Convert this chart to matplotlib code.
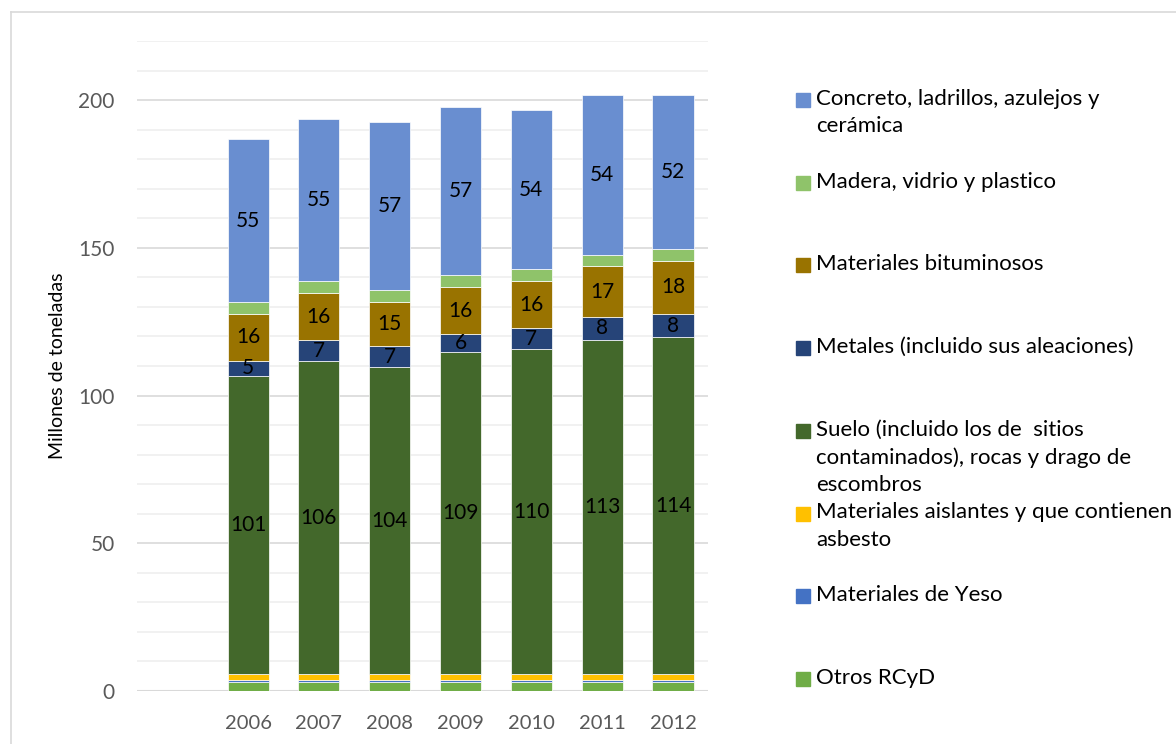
import matplotlib
matplotlib.use("Agg")
import matplotlib.pyplot as plt
from matplotlib.patches import Rectangle
from matplotlib.lines import Line2D
import numpy as np

plt.rcParams['font.family'] = ['Lato', 'DejaVu Sans']

# ---- data ----
categories = ["", "2006", "2007", "2008", "2009", "2010", "2011", "2012"]
otros      = [0, 3.0, 3.0, 3.0, 3.0, 3.0, 3.0, 3.0]
yeso       = [0, 0.7, 0.7, 0.7, 0.7, 0.7, 0.7, 0.7]
aislantes  = [0, 2.0, 2.0, 2.0, 2.0, 2.0, 2.0, 2.0]
suelo      = [0, 101, 106, 104, 109, 110, 113, 114]
metales    = [0, 5, 7, 7, 6, 7, 8, 8]
bitum      = [0, 16, 16, 15, 16, 16, 17, 18]
madera     = [0, 4, 4, 4, 4, 4, 4, 4]
concreto   = [0, 55, 55, 57, 57, 54, 54, 52]

series_names = [
    "Otros RCyD",
    "Materiales de Yeso",
    "Materiales aislantes y que contienen\nasbesto",
    "Suelo (incluido los de  sitios\ncontaminados), rocas y drago de\nescombros",
    "Metales (incluido sus aleaciones)",
    "Materiales bituminosos",
    "Madera, vidrio y plastico",
    "Concreto, ladrillos, azulejos y\ncerámica",
]
series_vals = [otros, yeso, aislantes, suelo, metales, bitum, madera, concreto]
series_colors = ["#70ad47", "#4472c4", "#ffc000", "#43682b",
                 "#264478", "#997300", "#8fc36a", "#698ed0"]
labeled = [False, False, False, True, True, True, False, True]

fig = plt.figure(figsize=(11.76, 7.44), dpi=100)
W, H = 1176, 744
ax = fig.add_axes([137 / W, 1 - 691 / H, (708.4 - 137) / W, (691 - 41) / H])

x = np.arange(len(categories))
bottom = np.zeros(len(categories))
for vals, col, lab in zip(series_vals, series_colors, labeled):
    v = np.array(vals, dtype=float)
    mask = v > 0
    ax.bar(x[mask], v[mask], bottom=bottom[mask], width=0.58, color=col,
           edgecolor="#ffffff", linewidth=0.5, zorder=3)
    if lab:
        for xi, vi, bi in zip(x[mask], v[mask], bottom[mask]):
            ax.text(xi, bi + vi / 2, f"{vi:.0f}", ha="center", va="center",
                    fontsize=15, color="black", zorder=4)
    bottom = bottom + v

ax.set_xlim(-0.568, 7.5)
ax.set_ylim(0, 220)
ax.set_xticks(x)
ax.set_xticklabels(categories)
ax.set_yticks([0, 50, 100, 150, 200])
ax.set_yticks(np.arange(0, 221, 10), minor=True)
ax.tick_params(axis="both", which="both", length=0, colors="#595959")
ax.tick_params(axis="x", labelsize=14.5, pad=17)
ax.tick_params(axis="y", labelsize=15, pad=16)
ax.grid(True, which="minor", axis="y", color="#efefef", linewidth=1.2, zorder=0)
ax.grid(True, which="major", axis="y", color="#d9d9d9", linewidth=1.2, zorder=0)
for s in ax.spines.values():
    s.set_visible(False)
ax.axhline(0, color="#d9d9d9", linewidth=1.5, zorder=2)
ax.set_ylabel("Millones de toneladas", fontsize=14, color="black")
ax.yaxis.set_label_coords(-0.124, 0.5)

# legend (manual, Excel style: evenly spaced entries, first line aligned)
order = list(range(len(series_names)))[::-1]
y0, dy = 100, 82.7
for k, i in enumerate(order):
    yc = y0 + dy * k
    fig.patches.append(Rectangle((796 / W, 1 - (yc + 7) / H), 14 / W, 14 / H,
                                 transform=fig.transFigure, color=series_colors[i],
                                 figure=fig))
    fig.text(816 / W, 1 - (yc - 11) / H, series_names[i], fontsize=16,
             color="black", ha="left", va="top", linespacing=1.45)

# outer border
fig.add_artist(Line2D([11 / W, 1.0], [1 - 12 / H, 1 - 12 / H],
                      transform=fig.transFigure, color="#d9d9d9", linewidth=1.2))
fig.add_artist(Line2D([11 / W, 11 / W], [1 - 12 / H, 0.0],
                      transform=fig.transFigure, color="#d9d9d9", linewidth=1.2))

fig.savefig("out.png", dpi=100)
